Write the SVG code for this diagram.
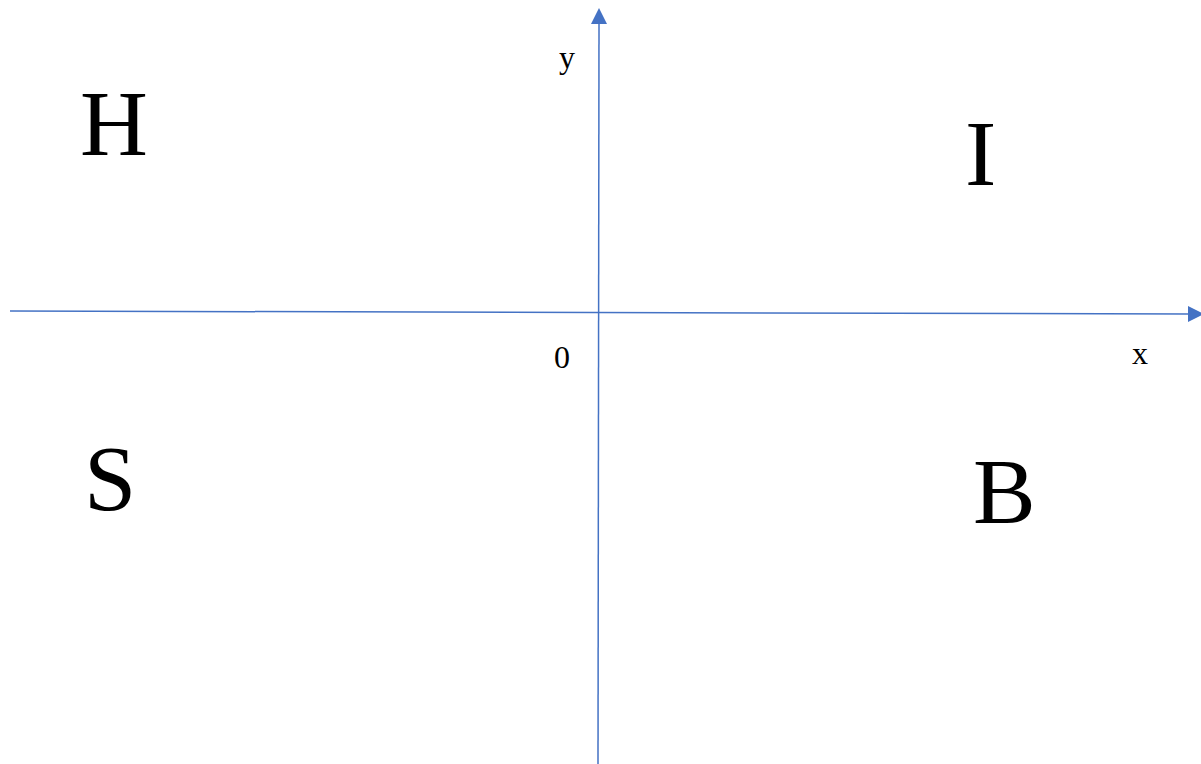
<svg xmlns="http://www.w3.org/2000/svg" width="1201" height="764" viewBox="0 0 1201 764">
<style>
.axis{stroke:#4472C4;stroke-width:1.5;fill:none}
.big{font-family:"Liberation Serif",serif;font-size:94px;fill:#000}
.small{font-family:"Liberation Serif",serif;font-size:32px;fill:#000}
</style>
<rect width="1201" height="764" fill="#fff"/>
<g id="connectors">
<line class="axis" x1="10" y1="311" x2="1190" y2="314"/>
<path d="M1188,306 L1204,314 L1188,322 Z" fill="#4472C4"/>
<line class="axis" x1="598" y1="764" x2="599" y2="22"/>
<path d="M591,24 L599,8 L607,24 Z" fill="#4472C4"/>
</g>
<g id="label-y"><text class="small" x="559" y="68">y</text></g>
<g id="label-0"><text class="small" x="554" y="368">0</text></g>
<g id="label-x"><text class="small" x="1132" y="364">x</text></g>
<g id="H"><text class="big" x="80" y="155">H</text></g>
<g id="I"><text class="big" x="965" y="185">I</text></g>
<g id="S"><text class="big" x="84" y="510">S</text></g>
<g id="B"><text class="big" x="973" y="523">B</text></g>
</svg>
